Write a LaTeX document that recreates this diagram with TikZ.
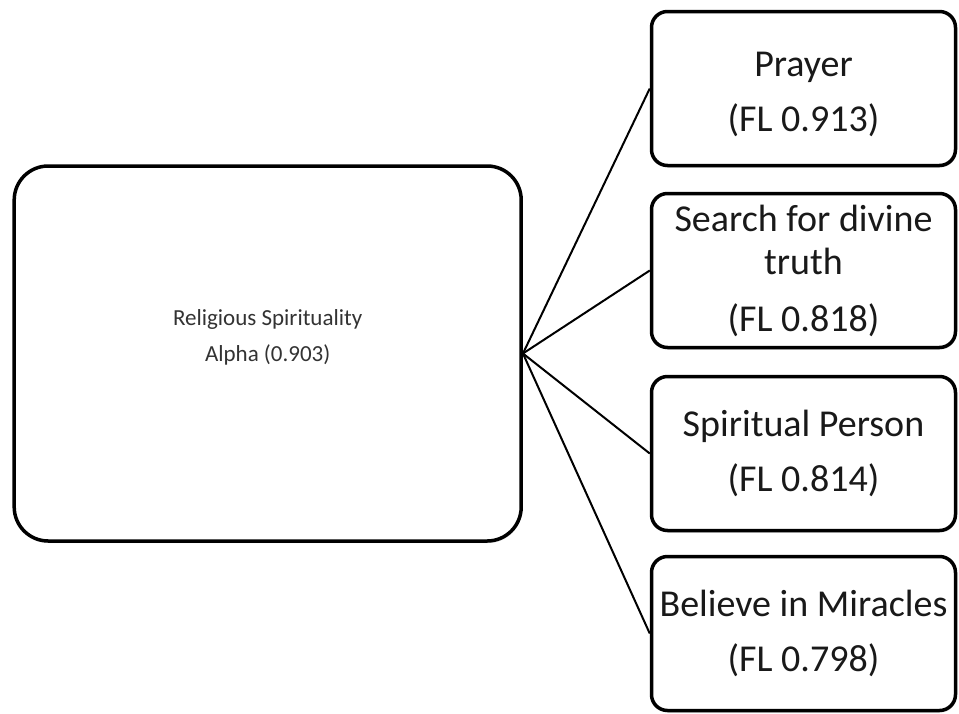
\documentclass[tikz,border=0pt]{standalone}
\usepackage{fontspec}
\setmainfont{Carlito}
\usetikzlibrary{shadows}
\begin{document}
\begin{tikzpicture}[x=1pt,y=-1pt,
  box/.style={draw=black, line width=3.5pt, fill=white, rounded corners=16pt,
    drop shadow={opacity=0.25, shadow xshift=1pt, shadow yshift=-2pt}},
  bigbox/.style={box, rounded corners=34pt, minimum width=507pt, minimum height=375pt},
  itembox/.style={box, minimum width=304pt, minimum height=154pt, align=center,
    text=black!90, font=\fontsize{38}{43}\selectfont},
  link/.style={draw=black, line width=2pt}]
  \useasboundingbox (0,0) rectangle (959,713);

  % central construct
  \node[bigbox] (main) at (267.7,353.5) {};
  \node[align=center, text=black!80, font=\fontsize{23}{36}\selectfont]
    (mainlabel) at (267.7,337) {Religious Spirituality\\Alpha (0.903)};

  % indicator items (a strut on the first line lowers the Prayer text a little)
  \node[itembox] (prayer)  at (803.5,88.5)  {\rule{0pt}{37pt}Prayer\\[12pt](FL 0.913)};
  \node[itembox] (search)  at (803.5,270.5) {Search for divine\\truth\\[14pt](FL 0.818)};
  \node[itembox] (person)  at (803.5,453.5) {Spiritual Person\\[12pt](FL 0.814)};
  \node[itembox] (miracle) at (803.5,633.5) {Believe in Miracles\\[12pt](FL 0.798)};

  % loadings
  \foreach \t in {prayer,search,person,miracle}
    \draw[link] (main.east) -- (\t.west);
\end{tikzpicture}
\end{document}
